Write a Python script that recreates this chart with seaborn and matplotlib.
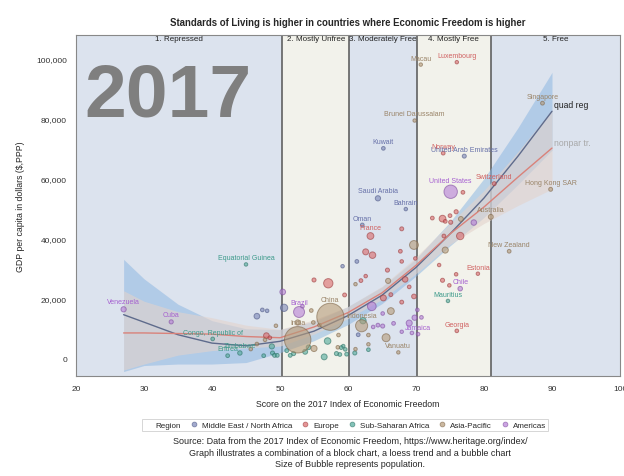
import numpy as np
import pandas as pd
import seaborn as sns
import matplotlib.pyplot as plt
from matplotlib.lines import Line2D
from matplotlib.ticker import FuncFormatter

sns.set_style("white")
plt.rcParams['font.family'] = ['Liberation Sans', 'DejaVu Sans']

# Region and colours
regions = ["Middle East / North Africa", "Europe", "Sub-Saharan Africa", "Asia-Pacific", "Americas"]
region_colors = ["#7B86B8", "#D9686A", "#4FA99A", "#B59A78", "#B57ED6"]
region_edges = ["#4E5885", "#9C3B3D", "#2C7265", "#7E6548", "#7F4C9E"]
label_colors = ["#6670A8", "#D06060", "#3C9A8A", "#9A8468", "#A560D0"]

# Freedom categories (block chart)
block_names = ["1. Repressed", "2. Mostly Unfree", "3. Moderately Free", "4. Mostly Free", "5. Free"]
block_edges = [20, 50.3, 60.2, 70.1, 81.0, 100]

# Labelled countries: name, score, GDP per capita (thousand $), region index, population (millions)
lab_name = ["Venezuela", "Cuba", "Equatorial Guinea", "Congo, Republic of", "Eritrea", "Zimbabwe",
            "Brazil", "China", "India", "Indonesia", "Macau", "Luxembourg", "Brunei Darussalam",
            "Kuwait", "Norway", "United Arab Emirates", "Singapore", "Hong Kong SAR", "Switzerland",
            "Australia", "New Zealand", "United States", "Saudi Arabia", "Bahrain", "Oman", "France",
            "Jamaica", "Chile", "Estonia", "Mauritius", "Georgia", "Vanuatu"]
lab_score = [27.0, 34.0, 45.0, 40.1, 42.3, 44.1, 52.8, 57.4, 52.6, 62.0, 70.7, 76.0, 69.8,
             65.2, 74.0, 77.1, 88.6, 89.8, 81.5, 81.0, 83.7, 75.1, 64.4, 68.5, 62.1, 63.3,
             70.3, 76.5, 79.1, 74.7, 76.0, 67.4]
lab_gdp = [16.3, 12.1, 31.3, 6.4, 0.8, 1.7, 15.4, 13.8, 6.1, 10.8, 98.1, 98.9, 79.4,
           70.1, 68.5, 67.5, 85.2, 56.4, 58.3, 47.2, 35.7, 55.6, 53.4, 49.8, 44.5, 40.8,
           8.0, 23.2, 28.2, 19.1, 9.1, 1.9]
lab_region = [4, 4, 2, 2, 2, 2, 4, 3, 3, 3, 3, 1, 3,
              0, 1, 0, 3, 3, 1, 3, 3, 4, 0, 0, 0, 1,
              4, 4, 1, 2, 1, 3]
lab_pop = [31, 11, 1.2, 4.6, 5, 16, 207, 1380, 1310, 258, 0.6, 0.6, 0.4,
           4, 5.2, 9, 5.5, 7.3, 8.2, 24, 4.6, 321, 31, 1.4, 4.2, 66,
           2.8, 18, 1.3, 1.3, 3.7, 0.3]

# Unlabelled countries
oth_score = [72.4, 73.9, 74.3, 75.0, 75.1, 75.9, 76.6, 78.5, 76.9, 67.9, 62.6, 63.6, 67.7, 69.7,
             69.9, 74.1, 76.5, 74.3, 73.4, 67.9, 61.3, 65.8, 62.6, 61.9, 61.1, 65.9, 68.4, 69.0,
             73.9, 74.9, 75.9, 69.7, 65.2, 67.9, 66.3, 63.5, 66.3, 65.1, 59.5, 59.2, 70.2, 70.8,
             69.8, 69.0, 66.7, 64.4, 65.1, 63.7, 65.6, 63.0, 61.5, 62.2, 67.9, 69.4, 63.0, 63.0,
             61.0, 61.1, 59.3, 59.6, 59.8, 50.4, 50.6, 46.6, 47.4, 48.1, 49.4, 48.0, 48.5, 47.8,
             46.6, 48.8, 48.9, 49.2, 49.6, 47.6, 45.7, 55.0, 57.1, 54.6, 53.3, 52.6, 54.9, 55.8,
             58.6, 57.0, 55.0, 56.5, 53.7, 54.2, 52.0, 51.5, 58.3, 58.8, 59.0, 58.5, 51.0]
oth_gdp = [46.8, 46.6, 45.7, 47.6, 45.4, 48.9, 46.5, 45.3, 55.4, 43.2, 35.5, 34.4, 35.7, 37.8,
           33.3, 40.8, 40.8, 36.1, 31.1, 32.3, 32.3, 29.4, 27.4, 25.9, 24.7, 25.8, 26.3, 23.8,
           26.0, 24.3, 28.0, 20.6, 20.1, 18.7, 21.2, 17.3, 15.7, 14.9, 21.1, 30.7, 16.1, 13.6,
           13.5, 11.7, 11.6, 11.0, 10.7, 10.4, 6.8, 7.7, 7.8, 12.5, 8.8, 8.4, 4.6, 2.8,
           1.7, 3.0, 4.0, 2.9, 1.3, 22.1, 16.8, 14.0, 16.1, 15.8, 10.8, 7.5, 6.8, 6.1,
           4.7, 3.9, 1.7, 0.9, 0.9, 0.8, 3.0, 26.1, 25.0, 15.9, 17.3, 11.9, 11.9, 11.0,
           7.7, 5.7, 3.2, 0.4, 2.1, 3.6, 1.5, 0.9, 1.5, 1.2, 3.5, 3.6, 2.5]
oth_region = [1, 1, 1, 1, 1, 1, 3, 4, 1, 1, 1, 1, 1, 3,
              1, 1, 1, 3, 1, 1, 0, 1, 1, 1, 3, 3, 1, 1,
              1, 1, 1, 1, 1, 1, 1, 4, 3, 4, 1, 0, 4, 4,
              4, 4, 4, 4, 4, 4, 3, 3, 0, 2, 4, 4, 3, 2,
              2, 3, 2, 2, 2, 4, 0, 0, 0, 0, 3, 1, 1, 3,
              3, 2, 2, 2, 2, 2, 3, 1, 1, 3, 4, 3, 3, 3,
              3, 2, 3, 2, 2, 2, 2, 2, 2, 2, 2, 3, 2]
oth_pop = [5, 65, 5, 5, 10, 11, 23, 36, 4.7, 8, 47, 60, 5, 127,
           2, 5, 82, 50, 1, 2, 5, 10, 2, 5, 1, 28, 38, 4,
           10, 2, 2, 20, 46, 7, 7, 122, 68, 3, 7, 2, 3, 4,
           32, 48, 5, 6, 10, 3, 100, 3, 5, 55, 0.5, 3, 1, 4,
           10, 1, 2, 3, 6, 40, 80, 40, 4, 3, 2, 40, 4, 3,
           3, 30, 10, 8, 6, 5, 2, 10, 144, 4, 3, 30, 3, 3,
           3, 60, 50, 45, 25, 20, 10, 6, 10, 5, 5, 3, 8]

# Trend curves (GDP in thousand $)
curve_x = [27, 30, 35, 40, 45, 50, 55, 60, 65, 70, 75, 80, 85, 90]
quad_fit = [14.5, 12.0, 7.8, 5.0, 4.1, 5.6, 9.0, 14.2, 21.0, 30.3, 41.5, 53.5, 67.5, 82.5]
quad_hi = [33.0, 26.5, 18.0, 12.5, 9.8, 9.5, 12.3, 17.2, 23.8, 33.2, 45.5, 60.0, 77.0, 95.5]
quad_lo = [-4.5, -2.5, -2.0, -2.0, -1.5, 1.8, 5.8, 11.2, 18.2, 27.4, 37.5, 47.0, 58.0, 69.5]
loess_fit = [8.4, 8.4, 8.2, 8.0, 7.2, 6.8, 10.4, 15.2, 21.8, 31.0, 41.5, 50.5, 60.5, 70.2]
loess_hi = [22.5, 19.0, 15.5, 13.5, 11.0, 9.6, 12.8, 17.2, 24.0, 33.8, 45.0, 56.0, 69.0, 83.0]
loess_lo = [-4.0, -2.0, 1.0, 2.5, 3.4, 4.0, 8.0, 13.2, 19.6, 28.2, 38.0, 45.0, 51.0, 56.5]

# build tables
lab = pd.DataFrame({"name": lab_name, "score": lab_score, "gdp": np.array(lab_gdp) * 1000,
                    "region": lab_region, "pop": lab_pop})
oth = pd.DataFrame({"name": "", "score": oth_score, "gdp": np.array(oth_gdp) * 1000,
                    "region": oth_region, "pop": oth_pop})
df = pd.concat([oth, lab], ignore_index=True)
curves = pd.DataFrame({"x": curve_x, "quad": np.array(quad_fit) * 1000,
                       "loess": np.array(loess_fit) * 1000})

fig = plt.figure(figsize=(6.24, 4.77), dpi=100)
ax = fig.add_axes([0.1218, 0.2096, 0.8718, 0.7150])

# blocks
block_fill = ["#DCE3EE", "#F2F2EB", "#DCE3EE", "#F2F2EB", "#DCE3EE"]
for i, name in enumerate(block_names):
    ax.axvspan(block_edges[i], block_edges[i + 1], color=block_fill[i], zorder=0, lw=0)
    ax.text((block_edges[i] + block_edges[i + 1]) / 2, 106800, name, ha='center', va='center',
            fontsize=5.8, color='#222222', zorder=6)
for e in block_edges[1:-1]:
    ax.axvline(e, color='#555555', lw=1.1, zorder=1)

ax.text(21.3, 81000, "2017", fontsize=54, fontweight='bold', color='#7F7F7F', zorder=1)

# confidence bands and trends
ax.fill_between(curve_x, np.array(quad_lo) * 1000, np.array(quad_hi) * 1000,
                color='#8FB8E2', alpha=0.55, lw=0, zorder=2)
ax.fill_between(curve_x, np.array(loess_lo) * 1000, np.array(loess_hi) * 1000,
                color='#E3D3CC', alpha=0.6, lw=0, zorder=2)
sns.lineplot(data=curves, x='x', y='quad', color='#5E6B8C', lw=1, ax=ax, zorder=3)
sns.lineplot(data=curves, x='x', y='loess', color='#D9827A', lw=1, ax=ax, zorder=3)
ax.text(90.3, 84600, "quad reg", fontsize=6.2, color='#222222', va='center', zorder=6)
ax.text(90.3, 72100, "nonpar tr.", fontsize=6.2, color='#A8A8A8', va='center', zorder=6)

# bubbles
size_range = (6, 380)
for r in range(len(regions)):
    sub = df[df['region'] == r]
    sns.scatterplot(data=sub, x='score', y='gdp', size='pop', sizes=size_range,
                    size_norm=(0, 1380), color=region_colors[r], edgecolor=region_edges[r],
                    linewidth=0.7, alpha=0.6, legend=False, ax=ax, zorder=4)

# country labels
for _, row in lab.iterrows():
    s = size_range[0] + (size_range[1] - size_range[0]) * row['pop'] / 1380
    off = 3.6 + 0.9 * np.sqrt(s) / 2
    ax.annotate(row['name'], (row['score'], row['gdp']), xytext=(0, off),
                textcoords='offset points', ha='center', va='center', fontsize=5,
                color=label_colors[row['region']], zorder=5)

ax.set_xlim(20, 100)
ax.set_ylim(-6000, 108000)
ax.set_xticks(range(20, 101, 10))
ax.set_yticks(range(0, 100001, 20000))
ax.yaxis.set_major_formatter(FuncFormatter(lambda v, p: f"{int(v):,}"))
ax.tick_params(axis='both', labelsize=6, colors='#333333', length=3, width=0.6, direction='out')
ax.tick_params(axis='both', color='#999999')
for sp in ax.spines.values():
    sp.set_color('#888888')
    sp.set_linewidth(0.8)
ax.set_xlabel("Score on the 2017 Index of Economic Freedom", fontsize=6.3, labelpad=5)
ax.set_ylabel("GDP per capita in dollars ($,PPP)", fontsize=6.3, labelpad=8)
ax.set_title("Standards of Living is higher in countries where Economic Freedom is higher",
             fontsize=6.9, fontweight='bold', pad=7)

# legend
handles = [Line2D([], [], linestyle='none', marker=None)]
labels = ["Region"]
for r in range(len(regions)):
    handles.append(Line2D([], [], linestyle='none', marker='o', markersize=3.5,
                          markerfacecolor=region_colors[r], markeredgecolor=region_edges[r],
                          markeredgewidth=0.5, alpha=0.7))
    labels.append(regions[r])
leg = fig.legend(handles, labels, ncol=6, loc='center', bbox_to_anchor=(0.553, 0.1075),
                 fontsize=5.8, frameon=True, fancybox=False, handlelength=0.9,
                 handletextpad=0.6, columnspacing=1.1, borderpad=0.25)
leg.get_frame().set_edgecolor('#CCCCCC')
leg.get_frame().set_linewidth(0.7)

fig.text(0.561, 0.0735, "Source: Data from the 2017 Index of Economic Freedom, https://www.heritage.org/index/",
         ha='center', va='center', fontsize=6.5)
fig.text(0.561, 0.050, "Graph illustrates a combination of a block chart, a loess trend and a bubble chart",
         ha='center', va='center', fontsize=6.5)
fig.text(0.561, 0.027, "Size of Bubble represents population.", ha='center', va='center', fontsize=6.5)

fig.savefig('out.png', dpi=100)
